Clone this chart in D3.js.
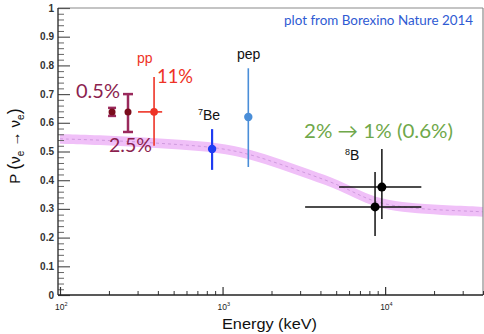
<!DOCTYPE html>
<html>
<head>
<meta charset="utf-8">
<script src="https://cdn.jsdelivr.net/npm/d3@7"></script>
<style>
  html, body { margin: 0; padding: 0; background: #fff; }
  svg { display: block; }
</style>
</head>
<body>
<svg id="chart" width="484" height="334"></svg>
<script>
// MSW survival-probability band (centre values)
const bandEnergy = [100, 176, 310, 547, 937, 1475, 2260, 3450, 5280, 7020, 9310, 14250, 21800, 40000];
const bandP      = [0.544, 0.540, 0.533, 0.524, 0.514, 0.491, 0.456, 0.420, 0.382, 0.346, 0.318, 0.303, 0.296, 0.290];
const bandHalfWidth = 0.017;

// Measurements and projections
const pointNames  = ["pp 0.5%", "pp 2.5%", "pp", "7Be", "pep", "8B a", "8B b"];
const pointEnergy = [209, 262, 379, 862, 1440, 9550, 8670];
const pointP      = [0.638, 0.638, 0.638, 0.509, 0.620, 0.376, 0.307];
const pointPLow   = [0.624, 0.568, 0.520, 0.436, 0.446, 0.265, 0.206];
const pointPHigh  = [0.652, 0.700, 0.760, 0.578, 0.790, 0.509, 0.429];
const pointELow   = [null, null, 302, null, null, 5210, 3220];
const pointEHigh  = [null, null, 425, null, null, 16700, 16700];

// Axis ticks
const yTickValues = [0, 0.1, 0.2, 0.3, 0.4, 0.5, 0.6, 0.7, 0.8, 0.9, 1];
const yTickLabels = ["0", "0.1", "0.2", "0.3", "0.4", "0.5", "0.6", "0.7", "0.8", "0.9", "1"];
const xDecades = [100, 1000, 10000];
const xDecadeExponents = ["2", "3", "4"];

const svg = d3.select("#chart");
const m = { left: 58, top: 8, right: 483, bottom: 295 };

const x = d3.scaleLog().domain([100, 40000]).range([m.left + 2, m.right]);
const y = d3.scaleLinear().domain([0, 1]).range([m.bottom, m.top]);

// style per point
const pointStyle = {
  "pp 0.5%": { bar: "#9a2a5c", dot: "#7a0c1c", w: 2.5, r: 3.5, cap: 4 },
  "pp 2.5%": { bar: "#9a2a5c", dot: "#7a0c1c", w: 2.5, r: 3.5, cap: 5 },
  "pp":      { bar: "#ee3326", dot: "#ee3326", w: 1.6, r: 3.8, cap: 0 },
  "7Be":     { bar: "#1f3cf2", dot: "#1f3cf2", w: 2.2, r: 4.2, cap: 0 },
  "pep":     { bar: "#4a8ed8", dot: "#4a8ed8", w: 1.6, r: 4.2, cap: 0 },
  "8B a":    { bar: "#111", dot: "#000", w: 1.5, r: 4.5, cap: 0 },
  "8B b":    { bar: "#111", dot: "#000", w: 1.5, r: 4.5, cap: 0 }
};

// --- band ---
const bandData = bandEnergy.map((e, i) => ({ e, p: bandP[i] }));
svg.append("path")
  .datum(bandData)
  .attr("d", d3.area()
    .x(d => x(d.e))
    .y0(d => y(d.p - bandHalfWidth))
    .y1(d => y(d.p + bandHalfWidth))
    .curve(d3.curveBasis))
  .attr("fill", "#f0c0f8");
svg.append("path")
  .datum(bandData)
  .attr("d", d3.line().x(d => x(d.e)).y(d => y(d.p)).curve(d3.curveBasis))
  .attr("fill", "none")
  .attr("stroke", "#cf9ade")
  .attr("stroke-width", 1)
  .attr("stroke-dasharray", "3,3");

// --- frame ---
svg.append("line").attr("x1", m.left).attr("x2", m.right).attr("y1", m.top).attr("y2", m.top)
  .attr("stroke", "#8a8a8a").attr("stroke-width", 1.2);
svg.append("line").attr("x1", m.right).attr("x2", m.right).attr("y1", m.top).attr("y2", m.bottom)
  .attr("stroke", "#8a8a8a").attr("stroke-width", 1.2);

// y axis: ticks pointing inward
const yMinor = d3.range(0, 1.0001, 0.02).filter(v => Math.abs(Math.round(v * 10) - v * 10) > 1e-6);
const yAxisG = svg.append("g").attr("transform", `translate(${m.left},0)`);
yAxisG.call(d3.axisRight(y).tickValues(yTickValues).tickSize(12).tickFormat(""))
  .call(g => g.select(".domain").remove())
  .call(g => g.selectAll("line").attr("stroke", "#555").attr("stroke-width", 1.2));
yAxisG.append("g").call(d3.axisRight(y).tickValues(yMinor).tickSize(6).tickFormat(""))
  .call(g => g.select(".domain").remove())
  .call(g => g.selectAll("line").attr("stroke", "#666").attr("stroke-width", 1));
svg.append("line").attr("x1", m.left).attr("x2", m.left).attr("y1", m.top).attr("y2", m.bottom)
  .attr("stroke", "#333").attr("stroke-width", 1.4);
yAxisG.selectAll("text.ylab")
  .data(yTickValues)
  .enter().append("text")
  .attr("class", "ylab")
  .attr("x", -4)
  .attr("y", d => y(d) + 3.5)
  .attr("text-anchor", "end")
  .attr("font-family", "Liberation Sans, Arial, sans-serif")
  .attr("font-size", 10)
  .attr("font-weight", "bold")
  .attr("fill", "#333")
  .text((d, i) => yTickLabels[i]);

// x axis: ticks pointing upward
const xMinor = [];
[100, 1000, 10000].forEach(dec => { for (let k = 2; k <= 9; k++) { if (dec * k <= 40000) xMinor.push(dec * k); } });
const xAxisG = svg.append("g").attr("transform", `translate(0,${m.bottom})`);
xAxisG.call(d3.axisTop(x).tickValues(xDecades).tickSize(8).tickFormat(""))
  .call(g => g.select(".domain").remove())
  .call(g => g.selectAll("line").attr("stroke", "#333").attr("stroke-width", 1.2));
xAxisG.append("g").call(d3.axisTop(x).tickValues(xMinor).tickSize(4).tickFormat(""))
  .call(g => g.select(".domain").remove())
  .call(g => g.selectAll("line").attr("stroke", "#333").attr("stroke-width", 1));
svg.append("line").attr("x1", m.left).attr("x2", m.right).attr("y1", m.bottom).attr("y2", m.bottom)
  .attr("stroke", "#222").attr("stroke-width", 1.4);

const xl = svg.selectAll("text.xlab").data(xDecades).enter().append("text")
  .attr("class", "xlab")
  .attr("x", d => x(d) - 5)
  .attr("y", m.bottom + 15)
  .attr("font-family", "Liberation Sans, Arial, sans-serif")
  .attr("font-size", 8.5)
  .attr("fill", "#222");
xl.append("tspan").text("10");
xl.append("tspan").attr("font-size", 5.5).attr("dy", -4).text((d, i) => xDecadeExponents[i]);

// axis titles
svg.append("text")
  .attr("x", 222).attr("y", 329)
  .attr("font-family", "Liberation Sans, Arial, sans-serif")
  .attr("font-size", 14.5)
  .attr("fill", "#111")
  .attr("textLength", 95)
  .attr("lengthAdjust", "spacingAndGlyphs")
  .text("Energy (keV)");

const yt = svg.append("text")
  .attr("transform", "translate(20,146) rotate(-90)")
  .attr("text-anchor", "middle")
  .attr("font-family", "Liberation Sans, Arial, sans-serif")
  .attr("font-size", 15)
  .attr("fill", "#111");
yt.append("tspan").text("P ");
yt.append("tspan").attr("font-size", 18).text("(");
yt.append("tspan").text("ν");
yt.append("tspan").attr("font-size", 10).attr("dy", 4).text("e");
yt.append("tspan").attr("dy", -4).text(" → ");
yt.append("tspan").text("ν");
yt.append("tspan").attr("font-size", 10).attr("dy", 4).text("e");
yt.append("tspan").attr("dy", -4).attr("font-size", 18).text(")");

// --- error bars and points ---
const pts = pointNames.map((n, i) => ({
  n, e: pointEnergy[i], p: pointP[i], lo: pointPLow[i], hi: pointPHigh[i],
  el: pointELow[i], eh: pointEHigh[i], s: pointStyle[n]
}));
const pg = svg.append("g");
pts.forEach(d => {
  const cx = x(d.e), cy = y(d.p);
  pg.append("line").attr("x1", cx).attr("x2", cx).attr("y1", y(d.lo)).attr("y2", y(d.hi))
    .attr("stroke", d.s.bar).attr("stroke-width", d.s.w);
  if (d.s.cap > 0) {
    [d.lo, d.hi].forEach(v => pg.append("line")
      .attr("x1", cx - d.s.cap).attr("x2", cx + d.s.cap).attr("y1", y(v)).attr("y2", y(v))
      .attr("stroke", d.s.bar).attr("stroke-width", d.s.w));
  }
  if (d.el != null) {
    pg.append("line").attr("x1", x(d.el)).attr("x2", x(d.eh)).attr("y1", cy).attr("y2", cy)
      .attr("stroke", d.s.bar).attr("stroke-width", d.s.w);
  }
});
pts.forEach(d => {
  pg.append("circle").attr("cx", x(d.e)).attr("cy", y(d.p)).attr("r", d.s.r).attr("fill", d.s.dot);
});

// --- annotations ---
const humanist = "Lato, 'Open Sans', sans-serif";
const helv = "Liberation Sans, Arial, sans-serif";
function label(txt, px, py, opts) {
  return svg.append("text").attr("x", px).attr("y", py)
    .attr("font-family", opts.family).attr("font-size", opts.size)
    .attr("fill", opts.fill)
    .attr("textLength", opts.len || null)
    .attr("lengthAdjust", opts.len ? "spacingAndGlyphs" : null)
    .text(txt);
}
label("plot from Borexino Nature 2014", 284, 25, { family: humanist, size: 12.5, fill: "#2f5bd3", len: 189 });
label("0.5%", 76, 98, { family: humanist, size: 20, fill: "#8c1f4f", len: 44 });
label("2.5%", 109, 152, { family: humanist, size: 20, fill: "#8c1f4f", len: 43 });
label("11%", 157, 83, { family: humanist, size: 20, fill: "#ee3326", len: 36 });
label("2% → 1% (0.6%)", 304, 138, { family: humanist, size: 20, fill: "#6fa84a", len: 149 });
label("pp", 137, 63, { family: helv, size: 14, fill: "#ee3326" });
label("pep", 237, 59, { family: helv, size: 14, fill: "#111" });
const be = label("", 198, 120, { family: helv, size: 14, fill: "#111" });
be.append("tspan").attr("font-size", 9).attr("dy", -5).text("7");
be.append("tspan").attr("dy", 5).text("Be");
const bb = label("", 345, 160, { family: helv, size: 14, fill: "#111" });
bb.append("tspan").attr("font-size", 9).attr("dy", -5).text("8");
bb.append("tspan").attr("dy", 5).text("B");
</script>
</body>
</html>
